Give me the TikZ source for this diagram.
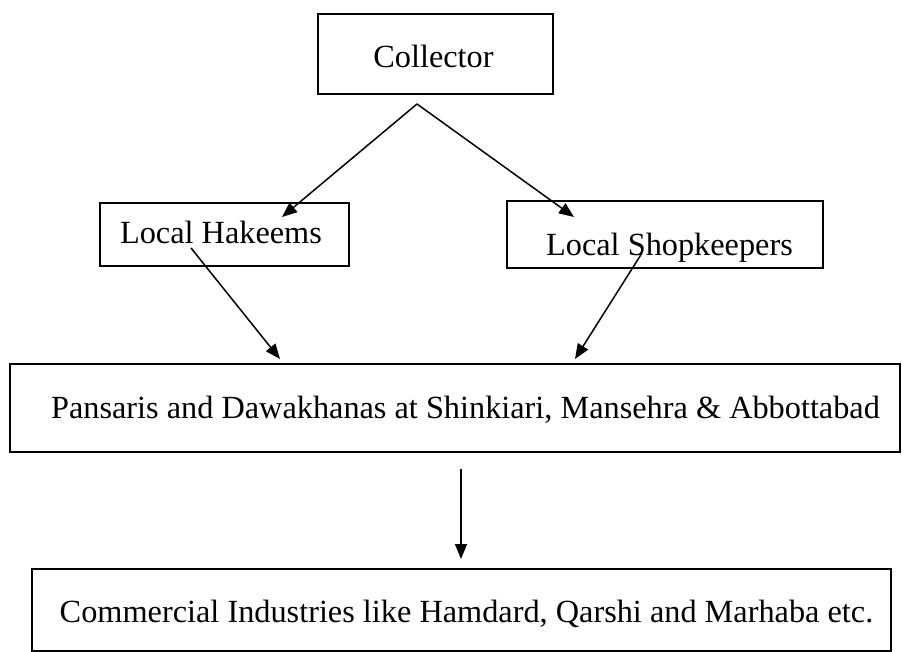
\documentclass[tikz,border=0pt]{standalone}
\usepackage{fontspec}
\setmainfont{Liberation Serif}
\usetikzlibrary{arrows.meta}
\begin{document}
\begin{tikzpicture}[x=1pt,y=-1pt,
  box/.style={draw=black, line width=1.8pt, inner sep=0pt},
  lbl/.style={font=\fontsize{32.3}{38}\selectfont, anchor=base, inner sep=0pt},
  arr/.style={line width=1.5pt, -{Triangle[length=15pt,width=12pt]}}]
\useasboundingbox (0,0) rectangle (902,652);
% boxes
\node[box, minimum width=235pt, minimum height=80pt] (col) at (435.5,54) {};
\node[box, minimum width=249pt, minimum height=63pt] (hak) at (224.5,234.5) {};
\node[box, minimum width=316pt, minimum height=67pt] (shop) at (665,234.5) {};
\node[box, minimum width=890pt, minimum height=88pt] (pan) at (455,408) {};
\node[box, minimum width=859pt, minimum height=82pt] (com) at (461.5,610) {};
% texts
\node[lbl] (coltxt) at (433.5,68) {Collector};
\node[lbl] (haktxt) at (221,244) {Local Hakeems};
\node[lbl] (shoptxt) at (669.5,256) {Local Shopkeepers};
\node[lbl] (pantxt) at (465.5,418) {Pansaris and Dawakhanas at Shinkiari, Mansehra \& Abbottabad};
\node[lbl] (comtxt) at (466.5,622) {Commercial Industries like Hamdard, Qarshi and Marhaba etc.};
% connector points
\coordinate (apex) at (417,104);
\coordinate (hakin) at (282,217);
\coordinate (shopin) at (574,217);
\coordinate (hakout) at (191,248);
\coordinate (panin1) at (280,359);
\coordinate (shopout) at (642,253);
\coordinate (panin2) at (575,359);
\coordinate (panout) at (461,469);
\coordinate (comin) at (461,559);
% connectors
\draw[arr] (apex) -- (hakin);
\draw[arr] (apex) -- (shopin);
\draw[arr] (hakout) -- (panin1);
\draw[arr] (shopout) -- (panin2);
\draw[arr] (panout) -- (comin);
\end{tikzpicture}
\end{document}
